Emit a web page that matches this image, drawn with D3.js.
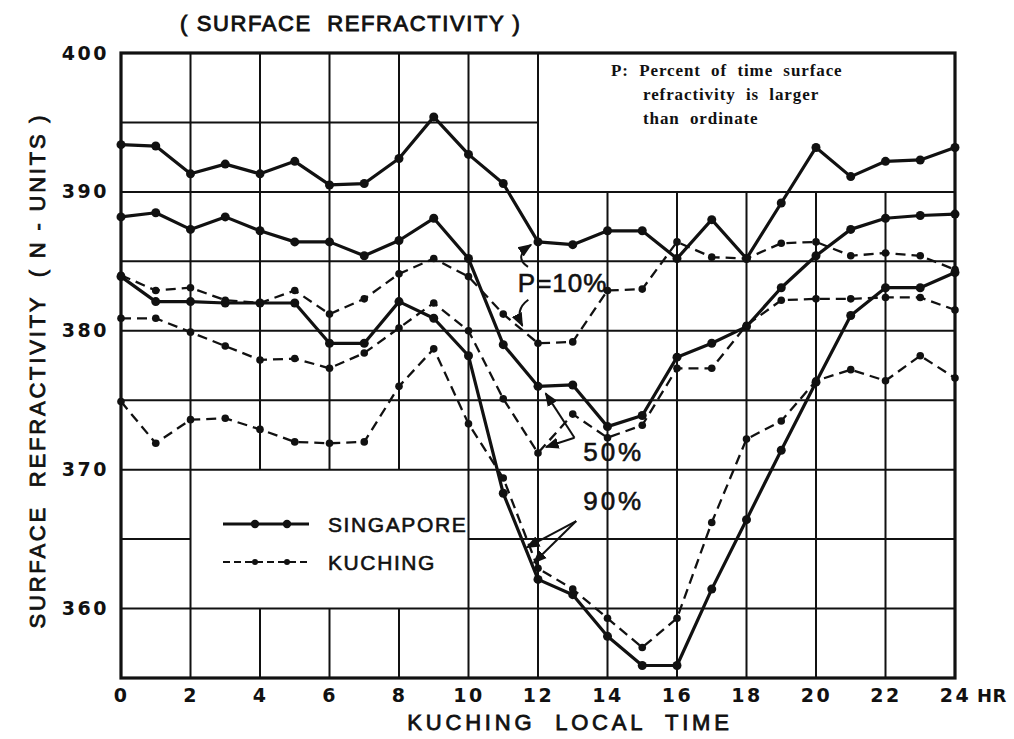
<!DOCTYPE html>
<html>
<head>
<meta charset="utf-8">
<script src="https://cdn.jsdelivr.net/npm/d3@7"></script>
<style>
  body { margin: 0; background: #fff; }
  svg text { fill: #111; }
</style>
</head>
<body>
<svg id="chart" width="1014" height="739"></svg>
<script>
// Hourly surface refractivity (N-units), Kuching local time 0..24 h
const hours = d3.range(0, 25);

// Singapore (solid) percentiles
const singapore10 = [393.4, 393.3, 391.3, 392.0, 391.3, 392.2, 390.5, 390.6, 392.4, 395.4, 392.7, 390.6, 386.4, 386.2, 387.2, 387.2, 385.2, 388.0, 385.2, 389.2, 393.2, 391.1, 392.2, 392.3, 393.2];
const singapore50 = [388.2, 388.5, 387.3, 388.2, 387.2, 386.4, 386.4, 385.4, 386.5, 388.1, 385.2, 379.0, 376.0, 376.1, 373.1, 373.9, 378.1, 379.1, 380.3, 383.1, 385.4, 387.3, 388.1, 388.3, 388.4];
const singapore90 = [383.9, 382.1, 382.1, 382.0, 382.0, 382.0, 379.1, 379.1, 382.1, 380.9, 378.2, 368.3, 362.1, 361.0, 358.0, 355.9, 355.9, 361.4, 366.4, 371.4, 376.3, 381.1, 383.1, 383.1, 384.2];

// Kuching (dashed) percentiles
const kuching10 = [384.0, 382.9, 383.1, 382.2, 382.0, 382.9, 381.2, 382.3, 384.1, 385.2, 383.9, 381.2, 379.1, 379.2, 382.9, 383.0, 386.4, 385.3, 385.2, 386.3, 386.4, 385.4, 385.6, 385.4, 384.4];
const kuching50 = [380.9, 380.9, 379.9, 378.9, 377.9, 378.0, 377.3, 378.4, 380.2, 382.0, 380.0, 375.1, 371.2, 374.0, 372.3, 373.2, 377.3, 377.3, 380.4, 382.2, 382.3, 382.3, 382.4, 382.4, 381.5];
const kuching90 = [374.9, 371.9, 373.6, 373.7, 372.9, 372.0, 371.9, 372.0, 376.0, 378.7, 373.3, 369.4, 362.9, 361.4, 359.3, 357.2, 359.3, 366.2, 372.2, 373.5, 376.4, 377.2, 376.4, 378.2, 376.6];

const yTicks = [360, 370, 380, 390, 400];
const xTicks = [0, 2, 4, 6, 8, 10, 12, 14, 16, 18, 20, 22, 24];

const ink = '#111';
const svg = d3.select('#chart');

const x = d3.scaleLinear().domain([0, 24]).range([121, 955]);
const y = d3.scaleLinear().domain([355, 400]).range([678, 53]);

// ---- grid (with open boxes for the legend and the note) ----
const grid = svg.append('g').attr('stroke', ink).attr('stroke-width', 2).attr('fill', 'none');
function seg(h1, v1, h2, v2) {
  grid.append('line')
    .attr('x1', x(h1)).attr('y1', y(v1))
    .attr('x2', x(h2)).attr('y2', y(v2));
}
for (let v = 360; v < 400; v += 5) {
  if (v === 365) { seg(0, v, 2, v); seg(10, v, 24, v); }
  else if (v === 395) { seg(0, v, 12, v); }
  else seg(0, v, 24, v);
}
for (let h = 2; h < 24; h += 2) {
  if (h > 2 && h < 10) { seg(h, 355, h, 360); seg(h, 370, h, 400); }
  else if (h > 12) { seg(h, 355, h, 390); }
  else seg(h, 355, h, 400);
}
svg.append('rect')
  .attr('x', x(0)).attr('y', y(400))
  .attr('width', x(24) - x(0)).attr('height', y(355) - y(400))
  .attr('fill', 'none').attr('stroke', ink).attr('stroke-width', 3.2);

// ---- axes ----
const tickFont = g => g.selectAll('text')
  .attr('font-family', 'DejaVu Sans').attr('font-weight', 'bold')
  .attr('font-size', 19).attr('letter-spacing', 2.5).attr('fill', ink);

svg.append('g')
  .attr('transform', `translate(${x(0) - 8},0)`)
  .call(d3.axisLeft(y).tickValues(yTicks).tickSize(0).tickPadding(4).tickFormat(d3.format('d')))
  .call(g => g.select('.domain').remove())
  .call(tickFont);

svg.append('g')
  .attr('transform', `translate(0,${y(355) + 6})`)
  .call(d3.axisBottom(x).tickValues(xTicks).tickSize(0).tickPadding(4).tickFormat(d3.format('d')))
  .call(g => g.select('.domain').remove())
  .call(tickFont);

svg.append('text')
  .attr('x', x(24) + 22).attr('y', y(355) + 24)
  .attr('font-family', 'DejaVu Sans').attr('font-weight', 'bold')
  .attr('font-size', 18).attr('letter-spacing', 0.5)
  .text('HR');

// ---- titles ----
svg.append('text')
  .attr('x', 180).attr('y', 31)
  .attr('font-family', 'Liberation Sans').attr('font-size', 22)
  .attr('letter-spacing', 1.6).attr('stroke', ink).attr('stroke-width', 0.9)
  .style('white-space', 'pre')
  .text('( SURFACE  REFRACTIVITY )');

svg.append('text')
  .attr('transform', `translate(45,${(y(400) + y(355)) / 2 + 5}) rotate(-90)`)
  .attr('text-anchor', 'middle')
  .attr('font-family', 'Liberation Sans').attr('font-size', 22)
  .attr('letter-spacing', 2.8).attr('stroke', ink).attr('stroke-width', 0.8)
  .style('white-space', 'pre')
  .text('SURFACE  REFRACTIVITY  ( N - UNITS )');

svg.append('text')
  .attr('x', (x(0) + x(24)) / 2 + 32).attr('y', 730)
  .attr('text-anchor', 'middle')
  .attr('font-family', 'Liberation Sans').attr('font-size', 22)
  .attr('letter-spacing', 3.8).attr('stroke', ink).attr('stroke-width', 0.8)
  .style('white-space', 'pre')
  .text('KUCHING  LOCAL  TIME');

// ---- series ----
const series = [
  { name: 'Singapore', values: singapore10, dashed: false },
  { name: 'Singapore', values: singapore50, dashed: false },
  { name: 'Singapore', values: singapore90, dashed: false },
  { name: 'Kuching', values: kuching10, dashed: true },
  { name: 'Kuching', values: kuching50, dashed: true },
  { name: 'Kuching', values: kuching90, dashed: true }
];

const line = d3.line().x((d, i) => x(hours[i])).y(d => y(d));

series.forEach(s => {
  const g = svg.append('g');
  g.append('path')
    .attr('d', line(s.values))
    .attr('fill', 'none').attr('stroke', ink)
    .attr('stroke-width', s.dashed ? 2.3 : 3.2)
    .attr('stroke-dasharray', s.dashed ? '10,6' : null)
    .attr('stroke-linejoin', 'round');
  g.selectAll('circle').data(s.values).join('circle')
    .attr('cx', (d, i) => x(hours[i])).attr('cy', d => y(d))
    .attr('r', s.dashed ? 3.8 : 4.5).attr('fill', ink);
});

// ---- legend ----
const legend = svg.append('g');
const lx0 = 223, lx1 = 309;
[[524, false, 'SINGAPORE'], [562, true, 'KUCHING']].forEach(([ly, dashed, label]) => {
  legend.append('line')
    .attr('x1', lx0).attr('x2', lx1).attr('y1', ly).attr('y2', ly)
    .attr('stroke', ink).attr('stroke-width', dashed ? 2 : 3.2)
    .attr('stroke-dasharray', dashed ? '7,4' : null);
  [255, 287].forEach(cx => legend.append('circle')
    .attr('cx', cx).attr('cy', ly).attr('r', dashed ? 3 : 4.2).attr('fill', ink));
  legend.append('text')
    .attr('x', 328).attr('y', ly + 8)
    .attr('font-family', 'Liberation Sans').attr('font-size', 21)
    .attr('letter-spacing', 1.6).attr('stroke', ink).attr('stroke-width', 0.6)
    .text(label);
});

// ---- note ----
const note = svg.append('g')
  .attr('font-family', 'Liberation Serif').attr('font-weight', 'bold')
  .attr('font-size', 17).attr('letter-spacing', 0.9);
note.append('text').attr('x', 611).attr('y', 76).style('white-space', 'pre')
  .text('P:  Percent  of  time  surface');
note.append('text').attr('x', 643).attr('y', 100).style('white-space', 'pre')
  .text('refractivity  is  larger');
note.append('text').attr('x', 643).attr('y', 124).style('white-space', 'pre')
  .text('than  ordinate');

// ---- annotations ----
const defs = svg.append('defs');
defs.append('marker')
  .attr('id', 'head').attr('viewBox', '0 0 10 10')
  .attr('refX', 9).attr('refY', 5)
  .attr('markerWidth', 7).attr('markerHeight', 7)
  .attr('orient', 'auto-start-reverse')
  .append('path').attr('d', 'M0,1 L10,5 L0,9 Z').attr('fill', ink);

const ann = svg.append('g').attr('fill', 'none').attr('stroke', ink).attr('stroke-width', 2);
const labelFont = t => t.attr('font-family', 'Liberation Sans').attr('stroke', ink).attr('stroke-width', 0.6);

// P = 10 %
const p10a = [x(12) - 7, y(singapore10[12]) + 3];
const p10b = [x(11.55), y((kuching10[11] + kuching10[12]) / 2) - 3];
ann.append('path')
  .attr('d', `M${p10a[0] - 3},${p10a[1] + 22} Q${p10a[0] - 18},${p10a[1] + 12} ${p10a[0]},${p10a[1]}`)
  .attr('marker-end', 'url(#head)');
ann.append('path')
  .attr('d', `M${p10b[0] + 6},${p10b[1] - 26} Q${p10b[0] - 8},${p10b[1] - 16} ${p10b[0]},${p10b[1]}`)
  .attr('marker-end', 'url(#head)');
svg.append('text').attr('x', x(11.42)).attr('y', y(382.8))
  .attr('font-size', 26).attr('letter-spacing', 1).call(labelFont).text('P=10%');

// 50 %
const t50 = [x(13.05), y(372.3)];
ann.append('line')
  .attr('x1', t50[0]).attr('y1', t50[1])
  .attr('x2', x(12.22)).attr('y2', y(singapore50[12]) + 7)
  .attr('marker-end', 'url(#head)');
ann.append('line')
  .attr('x1', t50[0]).attr('y1', t50[1])
  .attr('x2', x(12) + 8).attr('y2', y(kuching50[12]) - 6)
  .attr('marker-end', 'url(#head)');
svg.append('text').attr('x', x(13.3)).attr('y', y(370.6))
  .attr('font-size', 26).attr('letter-spacing', 3).call(labelFont).text('50%');

// 90 %
const t90 = [x(13.1), y(366.3)];
ann.append('line')
  .attr('x1', t90[0]).attr('y1', t90[1])
  .attr('x2', x(11.68)).attr('y2', y(364.4))
  .attr('marker-end', 'url(#head)');
ann.append('line')
  .attr('x1', t90[0]).attr('y1', t90[1])
  .attr('x2', x(11.88)).attr('y2', y(363.3))
  .attr('marker-end', 'url(#head)');
svg.append('text').attr('x', x(13.3)).attr('y', y(367.1))
  .attr('font-size', 26).attr('letter-spacing', 3).call(labelFont).text('90%');
</script>
</body>
</html>
